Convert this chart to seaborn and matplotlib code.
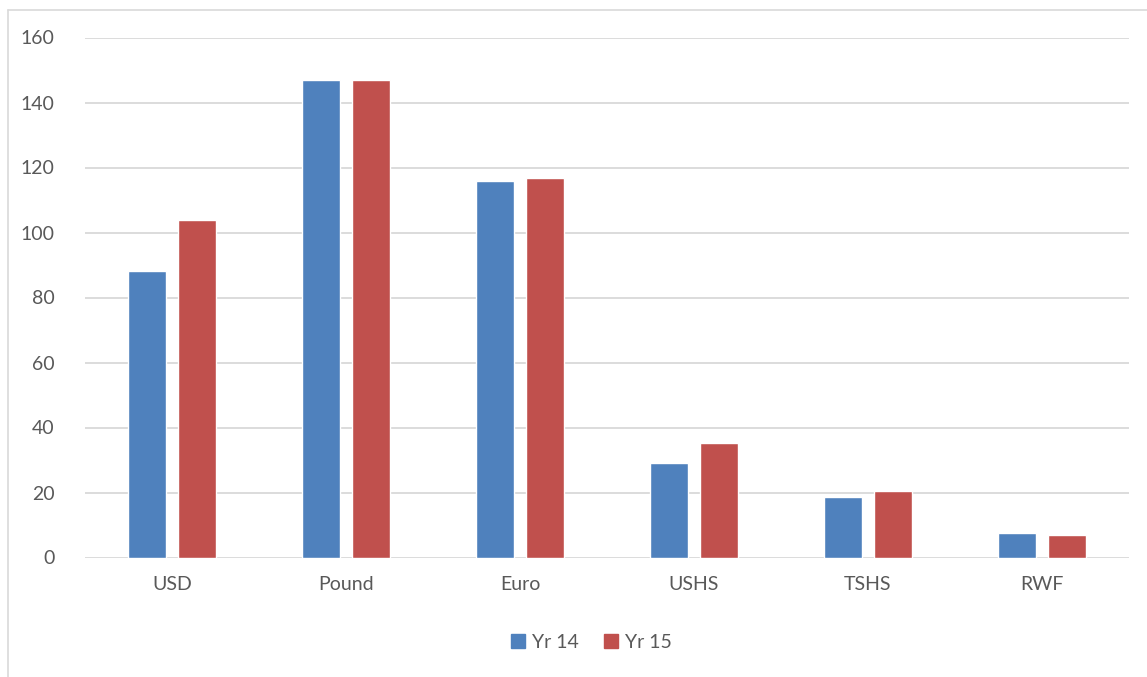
import pandas as pd
import matplotlib
matplotlib.use("Agg")
import matplotlib.pyplot as plt
from matplotlib.lines import Line2D
import seaborn as sns

currencies = ['USD', 'Pound', 'Euro', 'USHS', 'TSHS', 'RWF']
yr14 = [88.3, 147.0, 116.0, 29.2, 18.7, 7.6]
yr15 = [103.7, 147.0, 116.7, 35.3, 20.6, 7.0]
series_names = ['Yr 14', 'Yr 15']
colors = ['#4F81BD', '#C0504D']

df = pd.DataFrame({
    'currency': currencies * 2,
    'value': yr14 + yr15,
    'year': [series_names[0]] * len(currencies) + [series_names[1]] * len(currencies),
})

sns.set_style('white')
plt.rcParams['font.family'] = ['Lato', 'DejaVu Sans']
text_col = '#595959'

fig = plt.figure(figsize=(11.47, 6.77), dpi=100)
ax = fig.add_axes([85 / 1147, 119.5 / 677, 1044 / 1147, 520 / 677])

sns.barplot(data=df, x='currency', y='value', hue='year', palette=colors,
            width=0.575, gap=0.24, saturation=1, ax=ax, legend=False, zorder=3)

ax.set_ylim(0, 160)
ax.set_yticks(range(0, 161, 20))
ax.set_xlim(-0.5, len(currencies) - 0.5)
ax.yaxis.grid(True, color='#d9d9d9', linewidth=1.3, zorder=0)
ax.set_axisbelow(True)
for s in ax.spines.values():
    s.set_visible(False)
ax.set_xlabel('')
ax.set_ylabel('')
ax.tick_params(axis='both', length=0, labelsize=14, labelcolor=text_col)
ax.tick_params(axis='y', pad=22)
ax.tick_params(axis='x', pad=13)

handles = [Line2D([0], [0], marker='s', linestyle='', markersize=10,
                  markerfacecolor=c, markeredgecolor=c) for c in colors]
fig.legend(handles, series_names, loc='center', bbox_to_anchor=(590 / 1147, 1 - 642 / 677),
           ncol=2, frameon=False, fontsize=14, labelcolor=text_col,
           handletextpad=0.2, columnspacing=1.2, handlelength=1.0)

# light chart-area border
fig.add_artist(Line2D([8 / 1147, 8 / 1147], [0, 1 - 10 / 677], color='#d9d9d9', lw=1.2,
                      transform=fig.transFigure))
fig.add_artist(Line2D([8 / 1147, 1], [1 - 10 / 677, 1 - 10 / 677], color='#d9d9d9', lw=1.2,
                      transform=fig.transFigure))

fig.savefig('out.png', dpi=100)
